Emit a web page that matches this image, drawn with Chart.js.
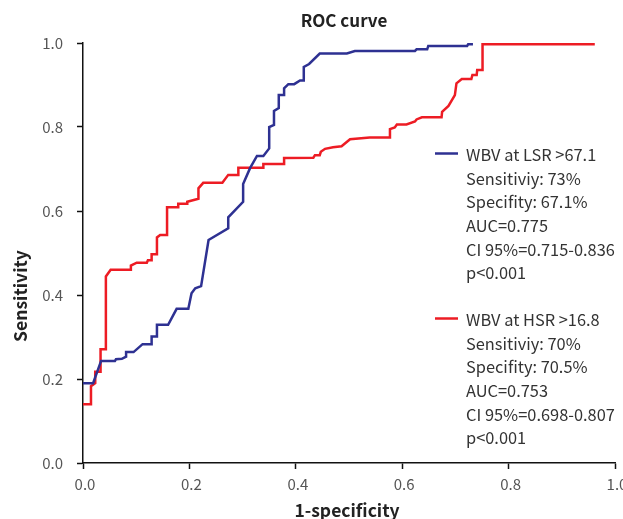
<!DOCTYPE html>
<html>
<head>
<meta charset="UTF-8">
<title>ROC curve</title>
<script src="https://cdn.jsdelivr.net/npm/chart.js@4/dist/chart.umd.min.js"></script>
<style>
    body { margin: 0; background: #fff; }
    #wrap { width: 623px; height: 519px; }
</style>
</head>
<body>
<div id="wrap"><canvas id="roc" width="623" height="519"></canvas></div>
<script>
    // WBV at LSR (blue)
    const lsrX = [0, 0.019, 0.034, 0.06, 0.062, 0.073, 0.081, 0.081, 0.095, 0.112, 0.129, 0.129, 0.139, 0.139, 0.160, 0.176, 0.198, 0.204, 0.211, 0.222, 0.236, 0.273, 0.273, 0.301, 0.301, 0.314, 0.327, 0.339, 0.350, 0.350, 0.359, 0.359, 0.368, 0.368, 0.378, 0.378, 0.386, 0.397, 0.408, 0.415, 0.415, 0.425, 0.445, 0.496, 0.511, 0.624, 0.627, 0.647, 0.649, 0.722, 0.724, 0.733];
    const lsrY = [0.19, 0.19, 0.243, 0.243, 0.247, 0.248, 0.253, 0.264, 0.264, 0.283, 0.283, 0.301, 0.301, 0.329, 0.329, 0.367, 0.367, 0.404, 0.416, 0.421, 0.531, 0.559, 0.585, 0.622, 0.664, 0.702, 0.731, 0.731, 0.749, 0.80, 0.805, 0.838, 0.845, 0.876, 0.876, 0.892, 0.902, 0.902, 0.911, 0.911, 0.943, 0.95, 0.975, 0.975, 0.981, 0.981, 0.985, 0.985, 0.993, 0.993, 0.997, 0.997];

    // WBV at HSR (red)
    const hsrX = [0, 0.015, 0.015, 0.023, 0.023, 0.033, 0.033, 0.043, 0.043, 0.052, 0.09, 0.09, 0.101, 0.12, 0.122, 0.129, 0.129, 0.139, 0.139, 0.145, 0.158, 0.158, 0.179, 0.179, 0.196, 0.196, 0.217, 0.217, 0.226, 0.262, 0.273, 0.292, 0.292, 0.339, 0.339, 0.378, 0.378, 0.433, 0.436, 0.445, 0.447, 0.455, 0.47, 0.486, 0.502, 0.539, 0.577, 0.577, 0.586, 0.59, 0.608, 0.624, 0.627, 0.637, 0.674, 0.675, 0.687, 0.699, 0.702, 0.712, 0.73, 0.732, 0.74, 0.741, 0.751, 0.751, 0.962];
    const hsrY = [0.14, 0.14, 0.183, 0.19, 0.217, 0.217, 0.271, 0.271, 0.444, 0.46, 0.46, 0.47, 0.477, 0.477, 0.483, 0.483, 0.497, 0.497, 0.537, 0.543, 0.543, 0.609, 0.609, 0.617, 0.617, 0.622, 0.629, 0.654, 0.667, 0.667, 0.686, 0.686, 0.703, 0.703, 0.712, 0.712, 0.726, 0.727, 0.733, 0.733, 0.741, 0.748, 0.752, 0.754, 0.771, 0.775, 0.775, 0.795, 0.799, 0.806, 0.806, 0.813, 0.818, 0.823, 0.823, 0.836, 0.85, 0.876, 0.904, 0.914, 0.914, 0.924, 0.924, 0.936, 0.936, 0.997, 0.997];

    const lsrLegend = ['WBV at LSR >67.1', 'Sensitiviy: 73%', 'Specifity: 67.1%', 'AUC=0.775', 'CI 95%=0.715-0.836', 'p<0.001'];
    const hsrLegend = ['WBV at HSR >16.8', 'Sensitiviy: 70%', 'Specifity: 70.5%', 'AUC=0.753', 'CI 95%=0.698-0.807', 'p<0.001'];

    const blue = '#2e3192';
    const red = '#ed1c24';
    const fontFam = '"Noto Sans CJK KR", "Noto Sans", sans-serif';

    function toPoints(xs, ys) {
        return xs.map((x, i) => ({ x: x, y: ys[i] }));
    }

    // title, axis titles and legend block drawn on the canvas
    const textPlugin = {
        id: 'rocText',
        afterDraw(chart) {
            const ctx = chart.ctx;
            ctx.save();
            ctx.fillStyle = '#222';
            ctx.textBaseline = 'middle';
            ctx.textAlign = 'center';
            ctx.font = 'bold 17px ' + fontFam;
            ctx.fillText('ROC curve', 344, 21);
            ctx.font = 'bold 17.5px ' + fontFam;
            ctx.fillText('1-specificity', 347, 510);
            ctx.save();
            ctx.translate(20, 296);
            ctx.rotate(-Math.PI / 2);
            ctx.font = 'bold 17.5px ' + fontFam;
            ctx.fillText('Sensitivity', 0, 0);
            ctx.restore();

            ctx.textAlign = 'left';
            ctx.font = '16.4px ' + fontFam;
            ctx.fillStyle = '#333';
            const blocks = [[lsrLegend, blue, 155], [hsrLegend, red, 320]];
            blocks.forEach(([lines, col, top]) => {
                ctx.strokeStyle = col;
                ctx.lineWidth = 2.5;
                ctx.beginPath();
                ctx.moveTo(435, top - 1.5);
                ctx.lineTo(458, top - 1.5);
                ctx.stroke();
                lines.forEach((t, i) => ctx.fillText(t, 466, top + i * 23.6));
            });
            ctx.restore();
        }
    };

    new Chart(document.getElementById('roc'), {
        type: 'scatter',
        data: {
            datasets: [{
                label: 'WBV at LSR >67.1',
                data: toPoints(lsrX, lsrY),
                showLine: true,
                borderColor: blue,
                borderWidth: 2.5,
                pointRadius: 0,
                borderJoinStyle: 'miter'
            }, {
                label: 'WBV at HSR >16.8',
                data: toPoints(hsrX, hsrY),
                showLine: true,
                borderColor: red,
                borderWidth: 2.5,
                pointRadius: 0,
                borderJoinStyle: 'miter'
            }]
        },
        options: {
            responsive: false,
            animation: false,
            clip: false,
            layout: { padding: { top: 43, right: 8, left: 0, bottom: 0 } },
            plugins: {
                legend: { display: false },
                tooltip: { enabled: false }
            },
            scales: {
                x: {
                    type: 'linear',
                    min: 0, max: 1,
                    border: { color: '#111', width: 1.5 },
                    grid: { drawOnChartArea: false, tickLength: 6, color: '#111', tickWidth: 1.5 },
                    ticks: {
                        stepSize: 0.2,
                        color: '#555',
                        padding: 6,
                        labelOffset: 2,
                        font: { family: fontFam, size: 15 },
                        callback: v => v.toFixed(1)
                    },
                    afterFit(scale) {
                        scale.height = 56;
                        scale.paddingLeft = 0;
                        scale.paddingRight = 0;
                    }
                },
                y: {
                    type: 'linear',
                    min: 0, max: 1,
                    border: { color: '#111', width: 1.5 },
                    grid: { drawOnChartArea: false, tickLength: 6, color: '#111', tickWidth: 1.5 },
                    ticks: {
                        stepSize: 0.2,
                        color: '#555',
                        padding: 14,
                        font: { family: fontFam, size: 15 },
                        callback: v => v.toFixed(1)
                    },
                    afterFit(scale) {
                        scale.width = 83;
                        scale.paddingTop = 0;
                        scale.paddingBottom = 0;
                    }
                }
            }
        },
        plugins: [textPlugin]
    });
</script>
</body>
</html>
